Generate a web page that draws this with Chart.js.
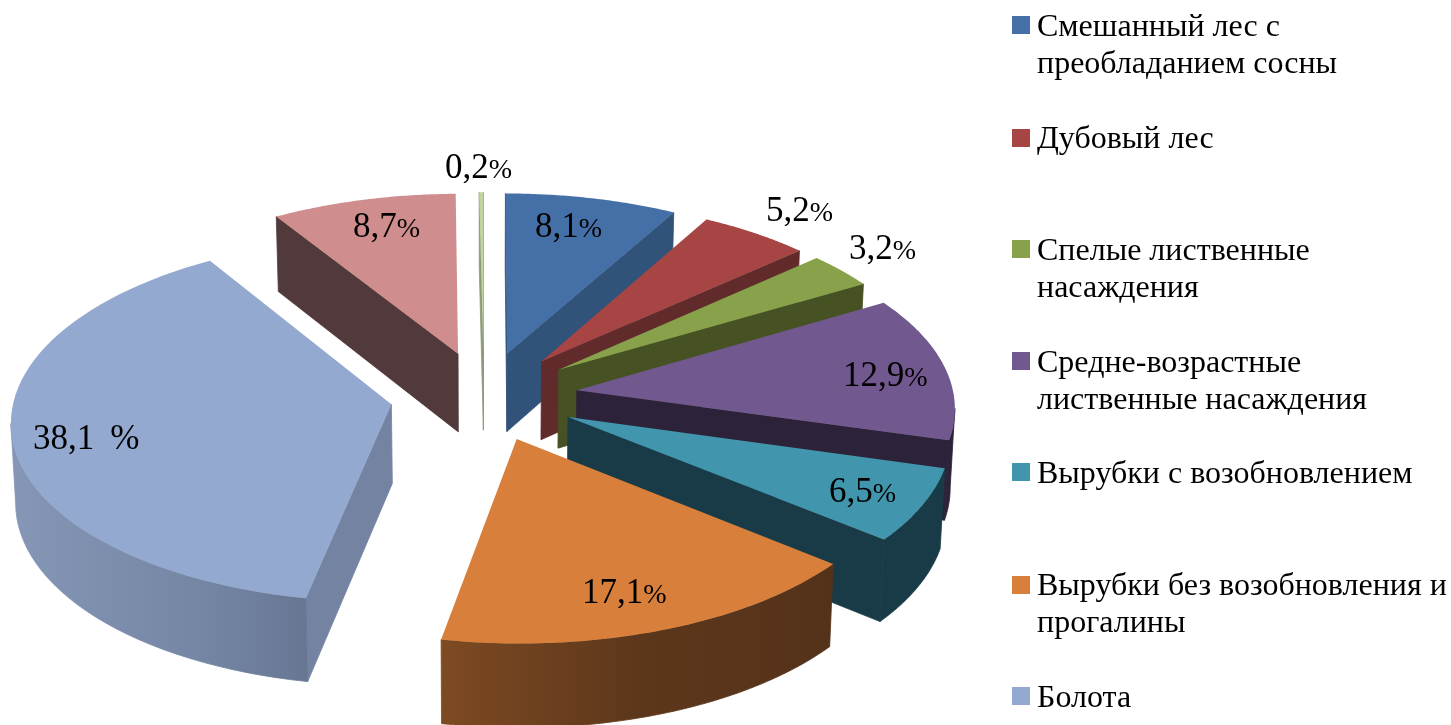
<!DOCTYPE html>
<html lang="ru">
<head>
<meta charset="utf-8">
<title>Лесные насаждения</title>
<script src="https://cdn.jsdelivr.net/npm/chart.js@4"></script>
<style>
  html, body { margin: 0; background: #fff; overflow: hidden; }
  canvas { display: block; }
</style>
</head>
<body>
<canvas id="chartPie" width="1451" height="725"></canvas>
<script>
// Chart data
const categories = [
  "Смешанный лес с преобладанием сосны",
  "Дубовый лес",
  "Спелые лиственные насаждения",
  "Средне-возрастные лиственные насаждения",
  "Вырубки с возобновлением",
  "Вырубки без возобновления и прогалины",
  "Болота",
  "Прочее",
  "Прочее 2"
];
const values = [8.1, 5.2, 3.2, 12.9, 6.5, 17.1, 38.1, 8.7, 0.2];

// Legend lines: the reference shows only the first seven entries
const legendLines = [
  ["Смешанный лес с", "преобладанием сосны"],
  ["Дубовый лес"],
  ["Спелые лиственные", "насаждения"],
  ["Средне-возрастные", "лиственные насаждения"],
  ["Вырубки с возобновлением"],
  ["Вырубки без возобновления и", "прогалины"],
  ["Болота"]
];

// Colours per slice
const topColors = ["#4570a7", "#a64543", "#88a24c", "#71588f", "#4196ae", "#d77f3b", "#93a9cf", "#cf8e8d", "#c3d59f"];
const sideColors = ["#315379", "#612b2b", "#465223", "#2c2239", "#193b47", "#7e4a22", "#7383a1", "#52393b", "#8d9a78"];
const rimLeftColors = ["#315379", "#612b2b", "#465223", "#2c2239", "#193b47", "#7e4a22", "#8596b6", "#52393b", "#8d9a78"];
const rimMidColors = ["#315379", "#612b2b", "#465223", "#2c2239", "#193b47", "#5d371b", "#7586a5", "#52393b", "#8d9a78"];
const rimRightColors = ["#315379", "#612b2b", "#465223", "#2c2239", "#193b47", "#54321a", "#5c6a85", "#52393b", "#8d9a78"];

// Where each value label sits
const labelX = [535, 766, 849, 843, 829, 582, 33, 353, 445];
const labelY = [237, 221, 259, 386, 502, 603, 449, 237, 178];

const legendRows = [36, 148, 260, 372, 483, 595, 707];
const legendBoxTop = [16, 129, 240, 352, 463, 576, 687];

// 3D view
const CX = 484, CY = 396;
const RADIUS_X = 377, RADIUS_Y = 180;
const PERSPECTIVE = 0.083;
const DEPTH = 79;
const EXPLODE = 0.249;

function project(x, y, low) {
  const w = 1 / (1 - PERSPECTIVE * y);
  let sx = CX + x * RADIUS_X * w;
  let sy = CY + y * RADIUS_Y * w;
  if (low) {
    sx = CX + (sx - CX) * 0.99;
    sy += DEPTH / (1 - 0.05 * y);
  }
  return [sx, sy];
}

function slicePoints(el) {
  const mid = (el.startAngle + el.endAngle) / 2;
  const ox = Math.cos(mid) * EXPLODE;
  const oy = Math.sin(mid) * EXPLODE;
  const pts = [{ x: ox, y: oy }];
  const steps = 60;
  for (let i = 0; i <= steps; i++) {
    const a = el.startAngle + (el.endAngle - el.startAngle) * i / steps;
    pts.push({ x: ox + Math.cos(a), y: oy + Math.sin(a) });
  }
  return { pts, tipY: oy };
}

function fillPoly(ctx, poly, color, seal) {
  ctx.beginPath();
  poly.forEach((p, i) => i ? ctx.lineTo(p[0], p[1]) : ctx.moveTo(p[0], p[1]));
  ctx.closePath();
  ctx.fillStyle = color;
  ctx.fill();
  if (seal) {
    // closes the hairline between neighbouring walls
    ctx.strokeStyle = color;
    ctx.lineWidth = 0.8;
    ctx.stroke();
  }
}

function drawSlice(ctx, el, i) {
  const { pts } = slicePoints(el);
  const screen = pts.map(p => project(p.x, p.y, false));
  const low = pts.map(p => project(p.x, p.y, true));
  const last = pts.length - 1;
  const xs = screen.map(p => p[0]);
  const rim = ctx.createLinearGradient(Math.min(...xs), 0, Math.max(...xs), 0);
  rim.addColorStop(0, rimLeftColors[i]);
  rim.addColorStop(0.5, rimMidColors[i]);
  rim.addColorStop(1, rimRightColors[i]);

  // flat side walls, only when they face the viewer
  if (screen[1][0] < screen[0][0]) fillPoly(ctx, [screen[0], screen[1], low[1], low[0]], sideColors[i], true);
  if (screen[0][0] < screen[last][0]) fillPoly(ctx, [screen[last], screen[0], low[0], low[last]], sideColors[i], true);

  // outer wall: the stretch of arc that runs leftwards on screen
  let from = -1, to = -1;
  for (let k = 1; k < last; k++) {
    if (screen[k + 1][0] < screen[k][0]) {
      if (from < 0) from = k;
      to = k + 1;
    }
  }
  if (from > 0) {
    const poly = [];
    for (let k = from; k <= to; k++) poly.push(screen[k]);
    for (let k = to; k >= from; k--) poly.push(low[k]);
    fillPoly(ctx, poly, rim, true);
  }
  fillPoly(ctx, screen, topColors[i], false);
}

function drawValueLabel(ctx, i) {
  const text = values[i].toFixed(1).replace(".", ",");
  ctx.fillStyle = "#000";
  ctx.textBaseline = "alphabetic";
  ctx.textAlign = "left";
  ctx.font = '35px "Liberation Serif"';
  ctx.fillText(text, labelX[i], labelY[i]);
  const w = ctx.measureText(text).width;
  if (i === 6) {
    ctx.fillText("%", labelX[i] + w + 16, labelY[i]);
  } else {
    ctx.font = '28px "Liberation Serif"';
    ctx.fillText("%", labelX[i] + w, labelY[i]);
  }
}

function drawLegend(ctx) {
  ctx.textBaseline = "alphabetic";
  ctx.textAlign = "left";
  ctx.font = '32px "Liberation Serif"';
  legendLines.forEach((lines, i) => {
    ctx.fillStyle = topColors[i];
    ctx.fillRect(1012, legendBoxTop[i], 18, 18);
    ctx.fillStyle = "#000";
    lines.forEach((line, j) => ctx.fillText(line, 1037, legendRows[i] + j * 37));
  });
}

const pie3d = {
  id: "pie3d",
  beforeDatasetsDraw(chart) {
    const ctx = chart.ctx;
    const arcs = chart.getDatasetMeta(0).data;
    // back slices first
    const order = arcs.map((el, i) => i).sort((a, b) =>
      slicePoints(arcs[a]).tipY - slicePoints(arcs[b]).tipY);
    ctx.save();
    order.forEach(i => drawSlice(ctx, arcs[i], i));
    values.forEach((v, i) => drawValueLabel(ctx, i));
    drawLegend(ctx);
    ctx.restore();
    return false;
  }
};

new Chart(document.getElementById("chartPie"), {
  type: "pie",
  data: {
    labels: categories,
    datasets: [{ data: values, backgroundColor: topColors, borderWidth: 0 }]
  },
  options: {
    responsive: false,
    animation: false,
    plugins: { legend: { display: false }, tooltip: { enabled: false } }
  },
  plugins: [pie3d]
});
</script>
</body>
</html>
